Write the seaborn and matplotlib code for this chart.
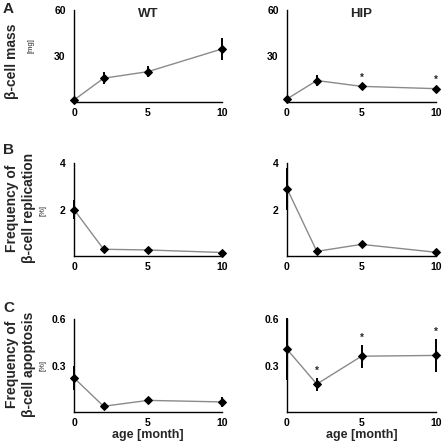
import numpy as np
import seaborn as sns
import matplotlib.pyplot as plt

# age in months
age = [0, 2, 5, 10]

# A: beta-cell mass [mg]
mass_wt = [1.3, 15.5, 19.8, 34.6]
mass_wt_err = [0.5, 4.0, 3.5, 7.0]
mass_hip = [2.0, 14.0, 10.2, 8.7]
mass_hip_err = [1.0, 3.5, 1.0, 1.0]
mass_hip_sig = [False, False, True, True]

# B: beta-cell replication [%]
rep_wt = [2.0, 0.29, 0.26, 0.15]
rep_wt_err = [0.42, 0.03, 0.03, 0.03]
rep_hip = [2.9, 0.2, 0.5, 0.16]
rep_hip_err = [0.9, 0.03, 0.1, 0.03]

# C: beta-cell apoptosis [%]
apo_wt = [0.22, 0.037, 0.075, 0.065]
apo_wt_err = [0.08, 0.008, 0.015, 0.03]
apo_hip = [0.405, 0.18, 0.36, 0.365]
apo_hip_err = [0.2, 0.042, 0.075, 0.105]
apo_hip_sig = [False, True, True, True]

sns.set_theme(style="white")
plt.rcParams['font.family'] = ['Liberation Sans', 'DejaVu Sans']
plt.rcParams['font.weight'] = 'bold'

W, H = 447, 444
fig = plt.figure(figsize=(W / 100, H / 100), dpi=100)


def make_ax(x0, x1, ytop, ybot):
    return fig.add_axes([x0 / W, 1 - ybot / H, (x1 - x0) / W, (ybot - ytop) / H])


def draw(ax, y, err, ymax, yticks, sig=None, fmt='%g'):
    sns.lineplot(x=age, y=y, ax=ax, color='#8a8a8a', lw=1.0, marker='D', markersize=4,
                 markerfacecolor='black', markeredgecolor='black', clip_on=False)
    ax.errorbar(age, y, yerr=err, fmt='none', ecolor='black', elinewidth=1.4, capsize=0, clip_on=False)
    if sig is not None:
        for xi, yi, ei, s in zip(age, y, err, sig):
            if s:
                ax.text(xi, yi + ei + ymax * 0.02, '*', ha='center', va='bottom', fontsize=7)
    ax.set_xlim(0, 10)
    ax.set_ylim(0, ymax)
    ax.set_xticks([0, 5, 10])
    ax.set_yticks(yticks)
    ax.set_yticklabels([fmt % t for t in yticks])
    ax.tick_params(labelsize=7.5, length=2, width=0.8, direction='out', colors='black')
    ax.tick_params(axis='x', pad=2)
    ax.tick_params(axis='y', pad=4)
    for s in ['top', 'right']:
        ax.spines[s].set_visible(False)
    for s in ['left', 'bottom']:
        ax.spines[s].set_color('black')
        ax.spines[s].set_linewidth(1.0)
    ax.set_xlabel('')
    ax.set_ylabel('')
    ax.patch.set_alpha(0)


lx0, lx1 = 74, 222
rx0, rx1 = 287, 436
rows = [(10, 102), (163, 256), (319, 412)]

ax = make_ax(lx0, lx1, *rows[0])
draw(ax, mass_wt, mass_wt_err, 60, [30, 60])
ax.set_title('WT', fontsize=9.5, fontweight='bold', pad=-5, y=1.0)
ax = make_ax(rx0, rx1, *rows[0])
draw(ax, mass_hip, mass_hip_err, 60, [30, 60], sig=mass_hip_sig)
ax.set_title('HIP', fontsize=9.5, fontweight='bold', pad=-5, y=1.0)

ax = make_ax(lx0, lx1, *rows[1])
draw(ax, rep_wt, rep_wt_err, 4, [2, 4])
ax = make_ax(rx0, rx1, *rows[1])
draw(ax, rep_hip, rep_hip_err, 4, [2, 4])

ax = make_ax(lx0, lx1, *rows[2])
draw(ax, apo_wt, apo_wt_err, 0.6, [0.3, 0.6], fmt='%.1f')
ax = make_ax(rx0, rx1, *rows[2])
draw(ax, apo_hip, apo_hip_err, 0.6, [0.3, 0.6], sig=apo_hip_sig, fmt='%.1f')

# x labels under the bottom row
for cx in [(lx0 + lx1) / 2, (rx0 + rx1) / 2]:
    fig.text(cx / W, 1 - 429 / H, 'age [month]', fontsize=9, fontweight='bold',
             ha='center', va='top')

# panel letters
for letter, yy in zip(['A', 'B', 'C'], [9, 150, 308]):
    fig.text(3 / W, 1 - yy / H, letter, fontsize=11, fontweight='bold', va='center', ha='left')

# y labels
fig.text(12 / W, 1 - 61 / H, '\u03b2-cell mass', rotation=90, fontsize=10, fontweight='bold',
         ha='center', va='center')
fig.text(31 / W, 1 - 46 / H, '[mg]', rotation=90, fontsize=5.5, fontweight='normal',
         ha='center', va='center')

fig.text(12 / W, 1 - 208 / H, 'Frequency of', rotation=90, fontsize=10, fontweight='bold',
         ha='center', va='center')
fig.text(29 / W, 1 - 208 / H, '\u03b2-cell replication', rotation=90, fontsize=10, fontweight='bold',
         ha='center', va='center')
fig.text(43 / W, 1 - 210 / H, '[%]', rotation=90, fontsize=5.5, fontweight='normal',
         ha='center', va='center')

fig.text(12 / W, 1 - 364 / H, 'Frequency of', rotation=90, fontsize=10, fontweight='bold',
         ha='center', va='center')
fig.text(29 / W, 1 - 364 / H, '\u03b2-cell apoptosis', rotation=90, fontsize=10, fontweight='bold',
         ha='center', va='center')
fig.text(43 / W, 1 - 365 / H, '[%]', rotation=90, fontsize=5.5, fontweight='normal',
         ha='center', va='center')

fig.savefig('out.png', dpi=100)
